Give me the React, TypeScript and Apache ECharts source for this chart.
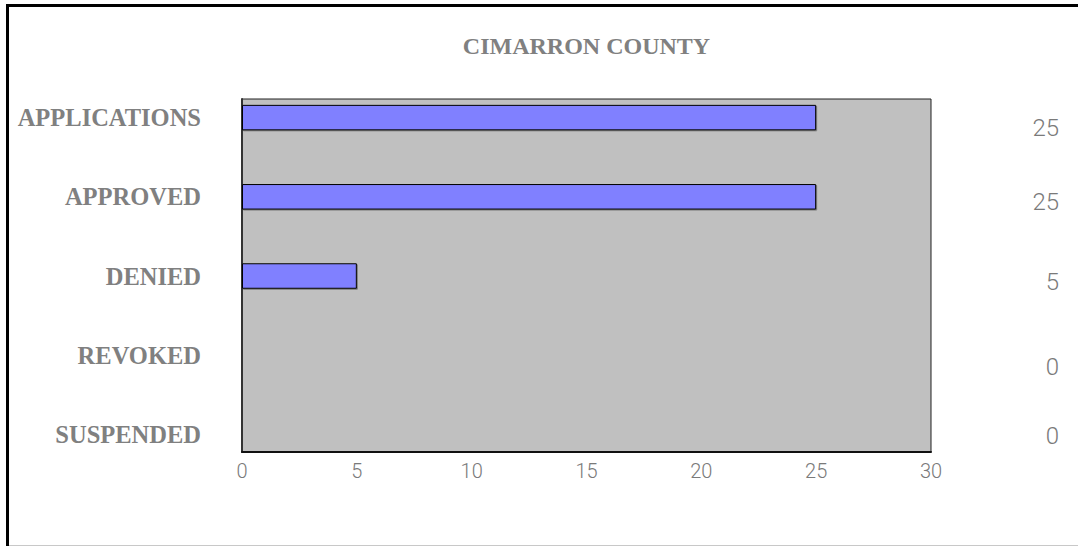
import React, { useEffect, useRef } from "react";
import * as echarts from "echarts";

const title = "CIMARRON COUNTY";
const categories = ["APPLICATIONS", "APPROVED", "DENIED", "REVOKED", "SUSPENDED"];
const counts = [25, 25, 5, 0, 0];
const xTicks = { min: 0, max: 30, interval: 5 };

// layout (pixel positions of the side value column)
const valueLabelY = [127.5, 201.5, 281.5, 366.5, 435.5];

const GRAY = "#808080";
const SERIF = "'Liberation Serif', 'Times New Roman', serif";
const SANS = "Roboto, 'Open Sans', sans-serif";

export default function App() {
  const ref = useRef<HTMLDivElement>(null);
  useEffect(() => {
    if (!ref.current) return;
    const chart = echarts.init(ref.current, null, { renderer: "svg" });
    const plotLeft = 242;
    const plotWidth = 689;
    chart.setOption({
      animation: false,
      backgroundColor: "#ffffff",
      grid: [
        {
          left: plotLeft,
          top: 99,
          width: plotWidth,
          height: 353,
          show: true,
          backgroundColor: "#c0c0c0",
          borderColor: "#222",
          borderWidth: 1,
        },
        { left: plotLeft, top: 78, width: plotWidth, height: 396 },
      ],
      xAxis: [
        {
          gridIndex: 0,
          type: "value",
          min: xTicks.min,
          max: xTicks.max,
          interval: xTicks.interval,
          axisLine: { show: true, lineStyle: { color: "#111", width: 2 } },
          axisTick: { show: false },
          splitLine: { show: false },
          axisLabel: {
            color: "#7a7a7a",
            fontSize: 20,
            fontFamily: SANS,
            fontWeight: 300,
            margin: 9,
          },
        },
        {
          gridIndex: 1,
          type: "value",
          min: xTicks.min,
          max: xTicks.max,
          show: false,
        },
      ],
      yAxis: [
        {
          gridIndex: 0,
          type: "value",
          min: 0,
          max: 1,
          position: "right",
          axisLine: { show: true, lineStyle: { color: "#333", width: 2 } },
          axisTick: { show: false },
          axisLabel: { show: false },
          splitLine: { show: false },
        },
        {
          gridIndex: 1,
          type: "category",
          inverse: true,
          data: categories,
          axisLine: { show: false },
          axisTick: { show: false },
          axisLabel: {
            color: GRAY,
            fontSize: 24.5,
            fontWeight: "bold",
            fontFamily: SERIF,
            margin: 41,
            padding: [4, 0, 0, 0],
          },
        },
      ],
      series: [
        {
          type: "bar",
          xAxisIndex: 1,
          yAxisIndex: 1,
          data: counts,
          barWidth: 25.5,
          itemStyle: {
            color: "#8080ff",
            borderColor: "#000",
            borderWidth: 1,
            shadowColor: "rgba(0,0,0,0.35)",
            shadowOffsetX: 1,
            shadowOffsetY: 1,
          },
        },
      ],
      graphic: [
        {
          type: "line",
          shape: { x1: 6, y1: 5.5, x2: 1078, y2: 5.5 },
          style: { stroke: "#000", lineWidth: 3 },
        },
        {
          type: "line",
          shape: { x1: 7.5, y1: 4, x2: 7.5, y2: 546 },
          style: { stroke: "#000", lineWidth: 3 },
        },
        {
          type: "line",
          shape: { x1: 9, y1: 545.5, x2: 1078, y2: 545.5 },
          style: { stroke: "#c8c8c8", lineWidth: 1 },
        },
        {
          type: "text",
          x: 586.5,
          y: 46,
          style: {
            text: title,
            fill: GRAY,
            fontSize: 24,
            fontWeight: "bold",
            fontFamily: SERIF,
            textAlign: "center",
            textVerticalAlign: "middle",
          },
        },
        ...counts.map((v, i) => ({
          type: "text",
          x: 1059,
          y: valueLabelY[i],
          style: {
            text: String(v),
            fill: "#7a7a7a",
            fontSize: 24,
            fontWeight: 300,
            fontFamily: SANS,
            textAlign: "right",
            textVerticalAlign: "middle",
          },
        })),
      ],
    });
    return () => chart.dispose();
  }, []);
  return (
    <div
      ref={ref}
      style={{ position: "fixed", left: 0, top: 0, width: 1078, height: 546 }}
    />
  );
}
